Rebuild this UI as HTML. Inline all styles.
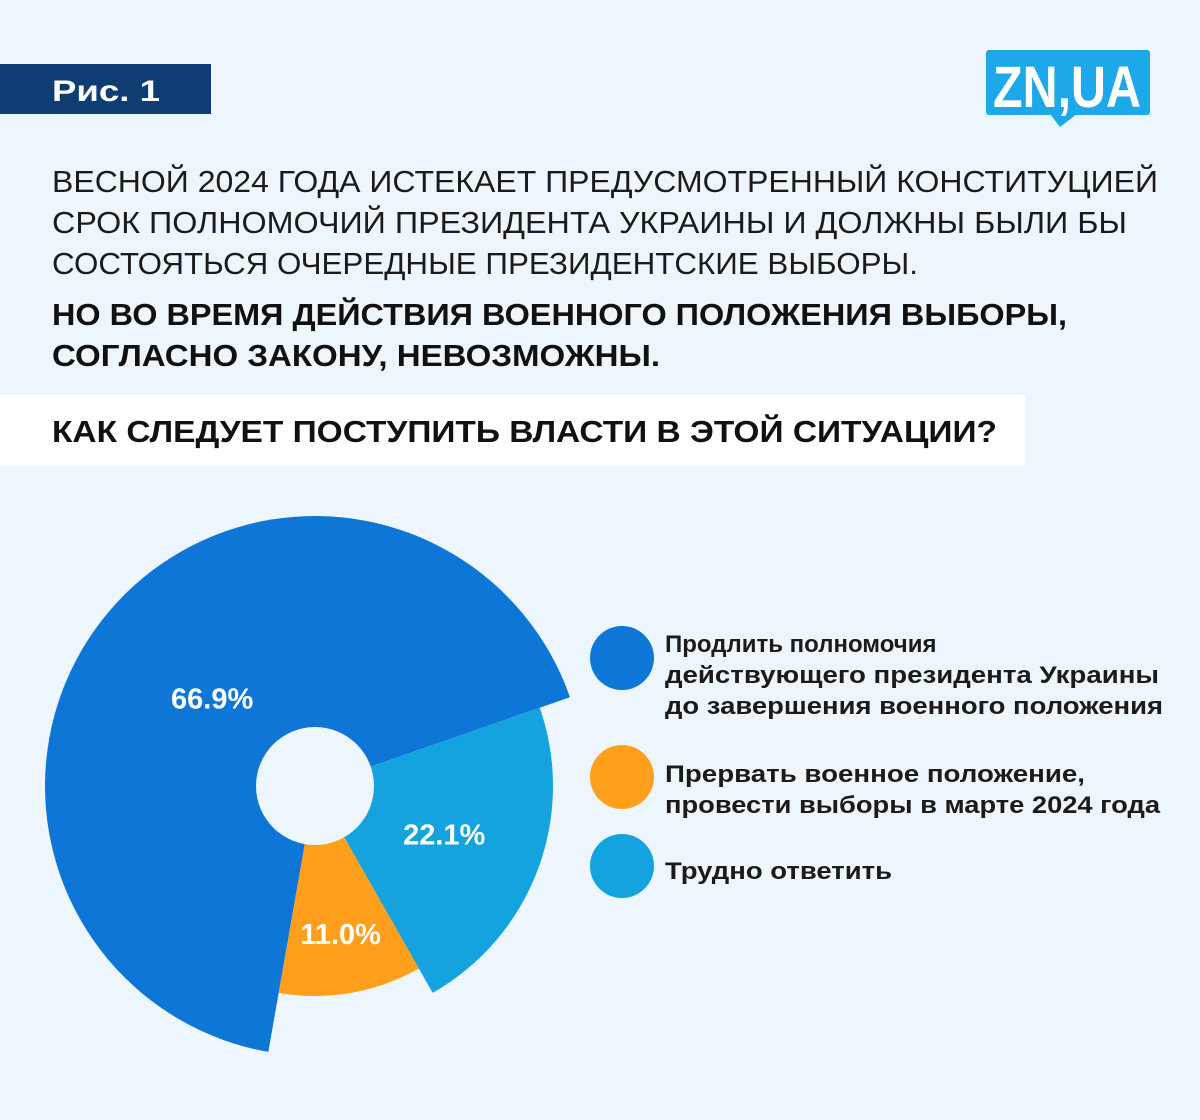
<!DOCTYPE html>
<html><head><meta charset="utf-8"><style>
html,body{margin:0;padding:0;background:#EEF6FD}
svg{display:block}
text{font-family:"Liberation Sans",sans-serif}
</style></head><body>
<svg width="1200" height="1120" viewBox="0 0 1200 1120">
<rect x="0" y="0" width="1200" height="1120" fill="#EEF6FD"/>
<g>
<rect x="0" y="64" width="211" height="50" fill="#0D3D73"/>
<text x="52" y="101" font-size="30" font-weight="bold" fill="#fff" textLength="108" lengthAdjust="spacingAndGlyphs">Рис. 1</text>
</g>
<g>
<rect x="986" y="50" width="164" height="65" rx="3" fill="#1DA8EA"/>
<polygon points="1050,114 1077,114 1060,127" fill="#1DA8EA"/>
<text x="993" y="107" font-size="58" font-weight="bold" fill="#fff" textLength="148" lengthAdjust="spacingAndGlyphs">ZN,UA</text>
</g>
<g fill="#1B1B1B" font-size="31">
<text x="52" y="192" textLength="1106" lengthAdjust="spacingAndGlyphs">ВЕСНОЙ 2024 ГОДА ИСТЕКАЕТ ПРЕДУСМОТРЕННЫЙ КОНСТИТУЦИЕЙ</text>
<text x="52" y="233" textLength="1075" lengthAdjust="spacingAndGlyphs">СРОК ПОЛНОМОЧИЙ ПРЕЗИДЕНТА УКРАИНЫ И ДОЛЖНЫ БЫЛИ БЫ</text>
<text x="52" y="274" textLength="866" lengthAdjust="spacingAndGlyphs">СОСТОЯТЬСЯ ОЧЕРЕДНЫЕ ПРЕЗИДЕНТСКИЕ ВЫБОРЫ.</text>
</g>
<g fill="#111" font-size="31" font-weight="bold">
<text x="52" y="325" textLength="1015" lengthAdjust="spacingAndGlyphs">НО ВО ВРЕМЯ ДЕЙСТВИЯ ВОЕННОГО ПОЛОЖЕНИЯ ВЫБОРЫ,</text>
<text x="52" y="366" textLength="608" lengthAdjust="spacingAndGlyphs">СОГЛАСНО ЗАКОНУ, НЕВОЗМОЖНЫ.</text>
</g>
<g>
<rect x="0" y="395" width="1025" height="71" fill="#fff"/>
<text x="52" y="442" font-size="31" font-weight="bold" fill="#111" textLength="945" lengthAdjust="spacingAndGlyphs">КАК СЛЕДУЕТ ПОСТУПИТЬ ВЛАСТИ В ЭТОЙ СИТУАЦИИ?</text>
</g>
<g id="pie"></g>
<g font-size="24" font-weight="bold" fill="#1B1B1B">
<g>
<circle cx="622" cy="658" r="32" fill="#0E76D6"/>
<text x="665" y="652">Продлить полномочия</text>
<text x="665" y="683" textLength="494" lengthAdjust="spacingAndGlyphs">действующего президента Украины</text>
<text x="665" y="714" textLength="498" lengthAdjust="spacingAndGlyphs">до завершения военного положения</text>
</g>
<g>
<circle cx="622" cy="777" r="32" fill="#FF9F1C"/>
<text x="665" y="782" textLength="420" lengthAdjust="spacingAndGlyphs">Прервать военное положение,</text>
<text x="665" y="813" textLength="495" lengthAdjust="spacingAndGlyphs">провести выборы в марте 2024 года</text>
</g>
<g>
<circle cx="622" cy="866" r="32" fill="#15A3DF"/>
<text x="665" y="879" textLength="227" lengthAdjust="spacingAndGlyphs">Трудно ответить</text>
</g>
</g>
</svg>
<script>
const categories = ["Продлить полномочия", "Прервать военное положение", "Трудно ответить"];
const values = [66.9, 11.0, 22.1];
const valueLabels = ["66.9%", "11.0%", "22.1%"];
const radii = [270, 210, 238];
const colors = ["#0E76D6", "#FF9F1C", "#15A3DF"];
const sliceNames = ["slice-extend", "slice-elections", "slice-hard-to-say"];
(function(){
  const NS="http://www.w3.org/2000/svg";
  const g=document.getElementById('pie');
  const cx=315, cy=786, hole=59;
  const total=values.reduce((a,b)=>a+b,0);
  const lbStart = 70.8;
  const ang={};
  let a = lbStart + values[2]/total*360 + values[1]/total*360;
  ang[0]=[a, a+values[0]/total*360]; a+=values[0]/total*360;
  ang[2]=[a, a+values[2]/total*360]; a+=values[2]/total*360;
  ang[1]=[a, a+values[1]/total*360];
  function pt(deg,r){const t=deg*Math.PI/180;return [cx+r*Math.sin(t), cy-r*Math.cos(t)];}
  for(const i of [0,2,1]){
    const [s,e]=ang[i], r=radii[i];
    const p1=pt(s,r), p2=pt(e,r), large=(e-s)>180?1:0;
    const path=document.createElementNS(NS,'path');
    path.setAttribute('d',`M${cx},${cy} L${p1[0]},${p1[1]} A${r},${r} 0 ${large} 1 ${p2[0]},${p2[1]} Z`);
    path.setAttribute('fill',colors[i]);
    
    
    g.appendChild(path);
  }
  const c=document.createElementNS(NS,'circle');
  c.setAttribute('cx',cx);c.setAttribute('cy',cy);c.setAttribute('r',hole);c.setAttribute('fill','#EEF6FD');
  
  
  g.appendChild(c);
  const labelDist=[135,150,138];
  for(const i of [0,1,2]){
    const [s,e]=ang[i];
    const p=pt((s+e)/2,labelDist[i]);
    const t=document.createElementNS(NS,'text');
    t.setAttribute('x',p[0]);t.setAttribute('y',p[1]+10);
    t.setAttribute('text-anchor','middle');t.setAttribute('font-size','29');t.setAttribute('font-weight','bold');t.setAttribute('fill','#fff');
    t.textContent=valueLabels[i];
    
    
    g.appendChild(t);
  }
})();
</script>
</body></html>
